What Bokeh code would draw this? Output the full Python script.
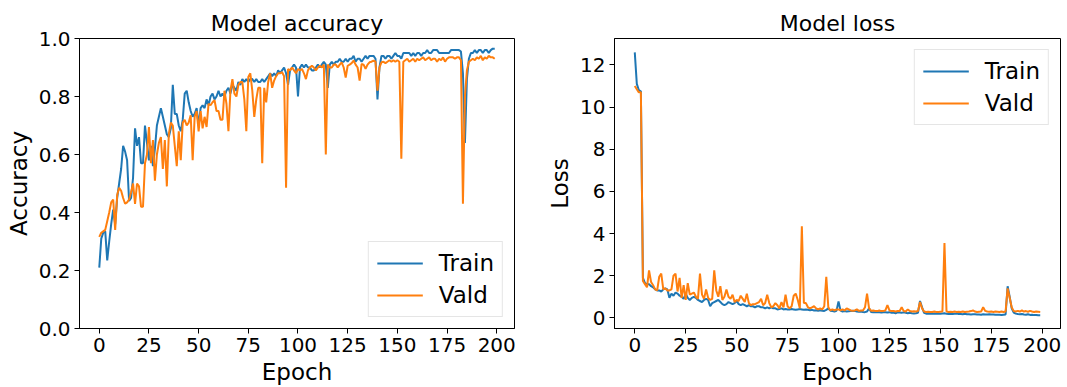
from bokeh.plotting import figure
from bokeh.models import Range1d, FixedTicker, Legend, LegendItem
from bokeh.layouts import row
from bokeh.embed import file_html
from bokeh.resources import INLINE

epochs = list(range(200))

train_acc = [
    0.21, 0.31, 0.33, 0.335, 0.235, 0.30, 0.36, 0.41, 0.36, 0.45,
    0.50, 0.55, 0.63, 0.61, 0.58, 0.44, 0.45, 0.52, 0.69, 0.63,
    0.66, 0.57, 0.57, 0.70, 0.64, 0.58, 0.63, 0.56, 0.62, 0.70,
    0.73, 0.76, 0.73, 0.70, 0.67, 0.66, 0.69, 0.84, 0.74, 0.74,
    0.70, 0.68, 0.72, 0.81, 0.82, 0.78, 0.75, 0.73, 0.74, 0.76,
    0.70, 0.76, 0.77, 0.76, 0.79, 0.77, 0.80, 0.81, 0.79, 0.80,
    0.82, 0.80, 0.81, 0.80, 0.82, 0.83, 0.81, 0.84, 0.83, 0.82,
    0.85, 0.84, 0.86, 0.85, 0.86, 0.85, 0.86, 0.86, 0.85, 0.86,
    0.85, 0.85, 0.86, 0.85, 0.86, 0.87, 0.88, 0.87, 0.88, 0.87,
    0.89, 0.88, 0.89, 0.90, 0.88, 0.84, 0.89, 0.90, 0.91, 0.90,
    0.80, 0.90, 0.91, 0.90, 0.91, 0.90, 0.90, 0.89, 0.89, 0.90,
    0.91, 0.90, 0.91, 0.92, 0.91, 0.83, 0.91, 0.92, 0.91, 0.92,
    0.92, 0.93, 0.92, 0.92, 0.93, 0.92, 0.93, 0.93, 0.94, 0.92,
    0.93, 0.93, 0.92, 0.93, 0.94, 0.93, 0.94, 0.94, 0.94, 0.93,
    0.79, 0.90, 0.94, 0.94, 0.93, 0.94, 0.94, 0.93, 0.94, 0.95,
    0.94, 0.94, 0.93, 0.95, 0.95, 0.95, 0.95, 0.94, 0.95, 0.94,
    0.95, 0.95, 0.94, 0.95, 0.95, 0.96, 0.95, 0.95, 0.96, 0.96,
    0.96, 0.95, 0.95, 0.95, 0.95, 0.95, 0.95, 0.96, 0.96, 0.96,
    0.96, 0.96, 0.955, 0.88, 0.64, 0.86, 0.93, 0.95, 0.95, 0.96,
    0.95, 0.96, 0.96, 0.95, 0.96, 0.96, 0.95, 0.96, 0.965, 0.965,
]

vald_acc = [
    0.316, 0.33, 0.335, 0.34, 0.37, 0.40, 0.435, 0.445, 0.34, 0.46,
    0.485, 0.475, 0.45, 0.43, 0.435, 0.445, 0.47, 0.50, 0.43, 0.50,
    0.49, 0.42, 0.42, 0.57, 0.60, 0.695, 0.57, 0.65, 0.51, 0.60,
    0.64, 0.66, 0.55, 0.65, 0.49, 0.67, 0.71, 0.70, 0.63, 0.56,
    0.68, 0.58, 0.71, 0.72, 0.70, 0.71, 0.735, 0.58, 0.73, 0.75,
    0.68, 0.75, 0.69, 0.73, 0.695, 0.775, 0.77, 0.78, 0.787, 0.75,
    0.75, 0.72, 0.72, 0.82, 0.775, 0.68, 0.82, 0.86, 0.81, 0.80,
    0.84, 0.85, 0.85, 0.79, 0.68, 0.867, 0.88, 0.82, 0.73, 0.79,
    0.83, 0.83, 0.57, 0.83, 0.78, 0.85, 0.88, 0.83, 0.855, 0.87,
    0.88, 0.88, 0.884, 0.87, 0.485, 0.895, 0.89, 0.90, 0.89, 0.88,
    0.895, 0.89, 0.895, 0.88, 0.86, 0.89, 0.90, 0.906, 0.90, 0.89,
    0.90, 0.906, 0.90, 0.91, 0.60, 0.91, 0.90, 0.90, 0.91, 0.91,
    0.90, 0.91, 0.918, 0.90, 0.865, 0.906, 0.91, 0.915, 0.924, 0.91,
    0.90, 0.855, 0.912, 0.91, 0.895, 0.91, 0.918, 0.92, 0.924, 0.92,
    0.82, 0.90, 0.918, 0.92, 0.915, 0.92, 0.925, 0.92, 0.925, 0.92,
    0.925, 0.92, 0.585, 0.92, 0.925, 0.93, 0.92, 0.925, 0.93, 0.92,
    0.93, 0.925, 0.93, 0.935, 0.925, 0.93, 0.935, 0.925, 0.93, 0.93,
    0.92, 0.93, 0.925, 0.935, 0.92, 0.93, 0.935, 0.935, 0.935, 0.93,
    0.935, 0.935, 0.925, 0.43, 0.80, 0.89, 0.92, 0.925, 0.93, 0.925,
    0.935, 0.93, 0.94, 0.925, 0.935, 0.93, 0.94, 0.935, 0.935, 0.93,
]

train_loss = [
    12.6, 11.1, 10.8, 10.75, 1.9, 1.65, 1.6, 1.6, 1.5, 1.45,
    1.35, 1.3, 1.3, 1.25, 1.35, 1.4, 1.35, 0.95, 1.15, 1.05,
    1.2, 1.15, 1.05, 1.0, 0.9, 1.15, 0.95, 0.85, 0.95, 1.0,
    0.95, 0.85, 0.8, 0.75, 0.85, 0.9, 0.85, 0.55, 0.7, 0.75,
    0.8, 0.85, 0.75, 0.65, 0.6, 0.65, 0.75, 0.7, 0.65, 0.7,
    0.8, 0.65, 0.6, 0.65, 0.6, 0.55, 0.6, 0.55, 0.55, 0.5,
    0.55, 0.55, 0.5, 0.5, 0.45, 0.5, 0.45, 0.5, 0.45, 0.45,
    0.4, 0.42, 0.45, 0.4, 0.42, 0.4, 0.4, 0.42, 0.4, 0.38,
    0.4, 0.42, 0.4, 0.38, 0.4, 0.38, 0.36, 0.38, 0.35, 0.36,
    0.34, 0.36, 0.34, 0.33, 0.38, 0.45, 0.34, 0.32, 0.3, 0.33,
    0.78, 0.34, 0.3, 0.32, 0.3, 0.31, 0.32, 0.34, 0.33, 0.3,
    0.29, 0.3, 0.28, 0.27, 0.3, 0.45, 0.28, 0.26, 0.27, 0.28,
    0.26, 0.25, 0.27, 0.26, 0.25, 0.27, 0.24, 0.25, 0.22, 0.26,
    0.25, 0.24, 0.26, 0.24, 0.22, 0.24, 0.22, 0.21, 0.22, 0.24,
    0.8, 0.5, 0.24, 0.2, 0.21, 0.2, 0.2, 0.21, 0.2, 0.19,
    0.2, 0.21, 0.22, 0.19, 0.18, 0.19, 0.18, 0.19, 0.2, 0.18,
    0.18, 0.17, 0.19, 0.17, 0.17, 0.16, 0.17, 0.17, 0.16, 0.16,
    0.15, 0.17, 0.16, 0.16, 0.17, 0.16, 0.16, 0.15, 0.15, 0.15,
    0.14, 0.15, 0.16, 1.5, 1.0, 0.45, 0.25, 0.2, 0.18, 0.17,
    0.18, 0.16, 0.15, 0.17, 0.14, 0.15, 0.13, 0.14, 0.12, 0.12,
]

vald_loss = [
    11.0, 10.85, 10.7, 10.7, 1.75, 1.6, 1.45, 2.25, 1.7, 1.55,
    1.35, 1.3, 1.95, 2.1, 1.35, 1.4, 1.3, 1.3, 1.35, 2.0,
    2.1, 1.25, 1.9, 0.95, 1.55, 0.85, 1.65, 1.1, 1.15, 1.2,
    1.0, 0.9, 2.1, 1.1, 0.9, 1.35, 0.95, 0.85, 0.9, 2.25,
    1.3, 1.0, 1.5, 0.85, 1.0, 1.35, 1.0, 0.9, 1.1, 0.75,
    0.85, 0.8, 1.05, 0.9, 0.75, 1.15, 0.7, 0.6, 0.65, 0.65,
    0.7, 0.75, 0.9, 0.6, 0.7, 1.1, 0.7, 0.5, 0.55, 0.7,
    0.6, 0.45, 0.75, 0.5, 1.1, 0.55, 0.45, 0.55, 1.05, 1.15,
    0.85, 0.45, 4.35, 0.7, 0.7, 0.5, 0.45, 0.5, 0.55, 0.45,
    0.4, 0.45, 0.4, 0.55, 1.95, 0.5, 0.35, 0.4, 0.35, 0.4,
    0.4, 0.35, 0.4, 0.35, 0.45, 0.4, 0.35, 0.33, 0.35, 0.4,
    0.33, 0.35, 0.35, 0.5, 1.15, 0.45, 0.33, 0.35, 0.33, 0.32,
    0.35, 0.32, 0.33, 0.35, 0.6, 0.35, 0.32, 0.33, 0.3, 0.32,
    0.33, 0.5, 0.32, 0.3, 0.4, 0.32, 0.3, 0.31, 0.3, 0.32,
    0.75, 0.45, 0.3, 0.28, 0.29, 0.28, 0.28, 0.3, 0.28, 0.28,
    0.29, 0.3, 3.55, 0.3, 0.28, 0.29, 0.28, 0.3, 0.28, 0.29,
    0.28, 0.3, 0.28, 0.29, 0.3, 0.32, 0.35, 0.3, 0.28, 0.29,
    0.3, 0.5, 0.33, 0.3, 0.29, 0.3, 0.28, 0.3, 0.29, 0.28,
    0.3, 0.28, 0.3, 1.4, 0.95, 0.5, 0.32, 0.3, 0.33, 0.3,
    0.35, 0.3, 0.32, 0.29, 0.33, 0.3, 0.28, 0.3, 0.29, 0.28,
]

series_labels = ["Train", "Vald"]
x_ticks = [0, 25, 50, 75, 100, 125, 150, 175, 200]
acc_ticks = [0.0, 0.2, 0.4, 0.6, 0.8, 1.0]
acc_tick_labels = ["0.0", "0.2", "0.4", "0.6", "0.8", "1.0"]
loss_ticks = [0, 2, 4, 6, 8, 10, 12]
loss_tick_labels = ["0", "2", "4", "6", "8", "10", "12"]

FONT = "DejaVu Sans"
BLUE = "#1f77b4"
ORANGE = "#ff7f0e"


def make_fig(title, xlabel, ylabel, y0, y1, yticks, ylabels, width, left, right):
    p = figure(width=width, height=387, output_backend="svg", toolbar_location=None,
               x_range=Range1d(-9.95, 208.95), y_range=Range1d(y0, y1),
               min_border_left=left, min_border_right=right,
               min_border_top=38, min_border_bottom=57)
    p.background_fill_color = "white"
    p.border_fill_color = "white"
    p.outline_line_color = "black"
    p.outline_line_width = 1
    p.grid.visible = False
    p.title.text = title
    p.title.align = "center"
    p.title.text_font = FONT
    p.title.text_font_size = "22px"
    p.title.text_font_style = "normal"
    p.title.text_color = "black"
    p.title.standoff = 5
    p.xaxis.axis_label = xlabel
    p.yaxis.axis_label = ylabel
    p.xaxis.ticker = FixedTicker(ticks=x_ticks)
    p.yaxis.ticker = FixedTicker(ticks=yticks)
    p.yaxis.major_label_overrides = {t: l for t, l in zip(yticks, ylabels)}
    for ax in (p.xaxis, p.yaxis):
        ax.axis_label_text_font = FONT
        ax.axis_label_text_font_size = "23px"
        ax.axis_label_text_font_style = "normal"
        ax.axis_label_text_color = "black"
        ax.major_label_text_font = FONT
        ax.major_label_text_font_size = "20px"
        ax.major_label_text_color = "black"
        ax.major_tick_in = 0
        ax.major_tick_out = 5
        ax.major_tick_line_color = "black"
        ax.minor_tick_line_color = None
        ax.axis_line_color = "black"
        ax.axis_label_standoff = 4
        ax.major_label_standoff = 4
    return p


p1 = make_fig("Model accuracy", "Epoch", "Accuracy", 0.0, 1.0, acc_ticks, acc_tick_labels,
              540, 79, 26)
p2 = make_fig("Model loss", "Epoch", "Loss", -0.5055, 13.2555, loss_ticks, loss_tick_labels,
              527, 74, 7)

for p, (s_train, s_vald), loc in ((p1, (train_acc, vald_acc), "bottom_right"),
                                  (p2, (train_loss, vald_loss), "top_right")):
    r1 = p.line(epochs, s_train, line_color=BLUE, line_width=2)
    r2 = p.line(epochs, s_vald, line_color=ORANGE, line_width=2)
    leg = Legend(items=[LegendItem(label=series_labels[0], renderers=[r1]),
                        LegendItem(label=series_labels[1], renderers=[r2])],
                 location=loc)
    leg.label_text_font = FONT
    leg.label_text_font_size = "23px"
    leg.label_text_color = "black"
    leg.glyph_width = 46
    leg.glyph_height = 22
    leg.label_standoff = 16
    leg.padding = 8
    leg.spacing = 6
    leg.margin = 11
    leg.border_line_color = "#cccccc"
    leg.border_line_width = 1
    leg.background_fill_color = "white"
    leg.background_fill_alpha = 0.8
    p.add_layout(leg)

layout = row(p1, p2)
open("out.html", "w").write(file_html(layout, INLINE))
